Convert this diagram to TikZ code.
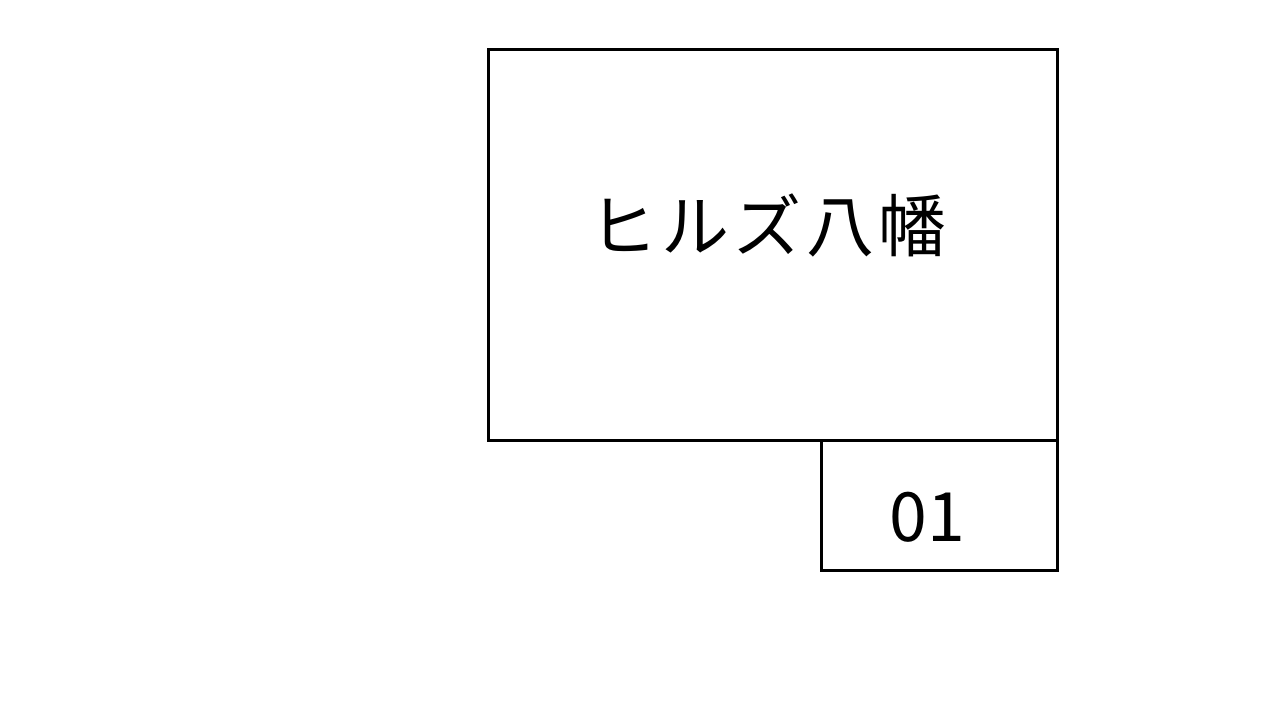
\documentclass[tikz,border=0pt]{standalone}
\usepackage{fontspec}
\setmainfont{Noto Sans CJK JP}
\newfontfamily\widejp[LetterSpace=6]{Noto Sans CJK JP}
\usetikzlibrary{positioning}

\begin{document}
\begin{tikzpicture}[x=1pt, y=-1pt,
  every node/.style={inner sep=0pt, outer sep=0pt},
  framebox/.style={draw, line width=3pt},
  boxlabel/.style={font=\fontsize{68}{80}\selectfont, anchor=center}]
\useasboundingbox (0,0) rectangle (1280,720);

% boxes
\node[framebox, minimum width=569pt, minimum height=391pt, anchor=north west] (hills) at (488,49) {};
\node[framebox, minimum width=236pt, minimum height=130pt, anchor=north east] (number) at (hills.south east) {};

% labels
\node[boxlabel, font=\widejp\fontsize{68}{80}\selectfont] (hillsname) at (768,225) {ヒルズ八幡};
\node[boxlabel] (numbertext) at (927,517) {01};
\end{tikzpicture}
\end{document}
